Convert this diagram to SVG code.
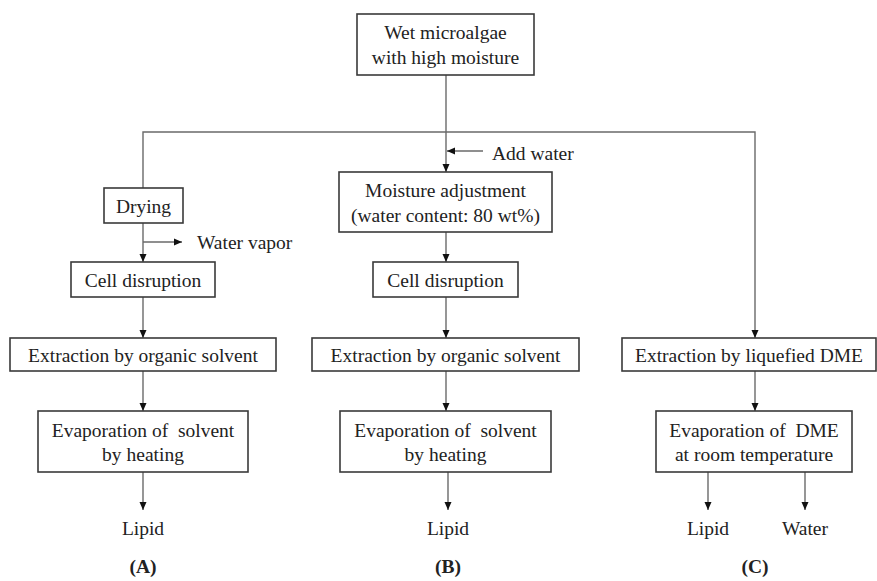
<svg xmlns="http://www.w3.org/2000/svg" width="877" height="581" viewBox="0 0 877 581">
<style>
.box{fill:#fff;stroke:#3a3a3a;stroke-width:1.6}
.ln{fill:none;stroke:#6a6a6a;stroke-width:1.4}
text{font-family:"Liberation Serif","Times New Roman",serif;font-size:19.5px;fill:#222;text-anchor:middle}
.l{text-anchor:start}
.b{font-weight:bold}
.p{white-space:pre}
</style>
<defs>
<marker id="ar" viewBox="0 0 8 8" refX="8" refY="4" markerWidth="8" markerHeight="8" markerUnits="userSpaceOnUse" orient="auto">
<path d="M0,0.5 L8,4 L0,7.5 Z" fill="#111"/>
</marker>
</defs>
<rect width="877" height="581" fill="#fff"/>
<g id="connectors">
<line class="ln" x1="446" y1="75" x2="446" y2="172" marker-end="url(#ar)"/>
<polyline class="ln" points="143,188 143,132 755,132 755,338" marker-end="url(#ar)"/>
<line class="ln" x1="483" y1="151" x2="447" y2="151" marker-end="url(#ar)"/>
<line class="ln" x1="143" y1="223" x2="143" y2="262" marker-end="url(#ar)"/>
<line class="ln" x1="143" y1="242" x2="182" y2="242" marker-end="url(#ar)"/>
<line class="ln" x1="143" y1="297" x2="143" y2="338" marker-end="url(#ar)"/>
<line class="ln" x1="143" y1="371" x2="143" y2="411" marker-end="url(#ar)"/>
<line class="ln" x1="143" y1="472" x2="143" y2="510" marker-end="url(#ar)"/>
<line class="ln" x1="446" y1="232" x2="446" y2="262" marker-end="url(#ar)"/>
<line class="ln" x1="446" y1="297" x2="446" y2="338" marker-end="url(#ar)"/>
<line class="ln" x1="446" y1="371" x2="446" y2="411" marker-end="url(#ar)"/>
<line class="ln" x1="448" y1="472" x2="448" y2="510" marker-end="url(#ar)"/>
<line class="ln" x1="755" y1="371" x2="755" y2="411" marker-end="url(#ar)"/>
<line class="ln" x1="708" y1="472" x2="708" y2="510" marker-end="url(#ar)"/>
<line class="ln" x1="805" y1="472" x2="805" y2="510" marker-end="url(#ar)"/>
</g>
<g id="n-top"><rect class="box" x="357" y="14" width="177" height="61"/><text x="445.5" y="39">Wet microalgae</text><text x="445.5" y="64">with high moisture</text></g>
<g id="n-drying"><rect class="box" x="104" y="188" width="79" height="35"/><text x="143.5" y="213">Drying</text></g>
<g id="l-vapor"><text class="l" x="197" y="249">Water vapor</text></g>
<g id="n-cellA"><rect class="box" x="71" y="262" width="144" height="35"/><text x="143" y="287">Cell disruption</text></g>
<g id="n-extA"><rect class="box" x="10" y="338" width="266" height="33"/><text x="143" y="362">Extraction by organic solvent</text></g>
<g id="n-evapA"><rect class="box" x="38" y="411" width="210" height="61"/><text class="p" x="143" y="437">Evaporation of  solvent</text><text x="143" y="461">by heating</text></g>
<g id="o-lipidA"><text x="143" y="535">Lipid</text></g>
<g id="t-A"><text class="b" x="143" y="573">(A)</text></g>
<g id="l-water"><text class="l" x="492" y="160">Add water</text></g>
<g id="n-moist"><rect class="box" x="339" y="172" width="213" height="60"/><text x="445.5" y="197">Moisture adjustment</text><text x="445.5" y="222">(water content: 80 wt%)</text></g>
<g id="n-cellB"><rect class="box" x="373" y="262" width="145" height="35"/><text x="445.5" y="287">Cell disruption</text></g>
<g id="n-extB"><rect class="box" x="312" y="338" width="267" height="33"/><text x="445.5" y="362">Extraction by organic solvent</text></g>
<g id="n-evapB"><rect class="box" x="340" y="411" width="211" height="61"/><text class="p" x="445.5" y="437">Evaporation of  solvent</text><text x="445.5" y="461">by heating</text></g>
<g id="o-lipidB"><text x="448" y="535">Lipid</text></g>
<g id="t-B"><text class="b" x="448" y="573">(B)</text></g>
<g id="n-extC"><rect class="box" x="622" y="338" width="254" height="33"/><text x="749" y="362">Extraction by liquefied DME</text></g>
<g id="n-evapC"><rect class="box" x="656" y="411" width="196" height="61"/><text class="p" x="754" y="437">Evaporation of  DME</text><text x="754" y="461">at room temperature</text></g>
<g id="o-lipidC"><text x="708" y="535">Lipid</text></g>
<g id="o-waterC"><text x="805" y="535">Water</text></g>
<g id="t-C"><text class="b" x="755" y="573">(C)</text></g>
</svg>
